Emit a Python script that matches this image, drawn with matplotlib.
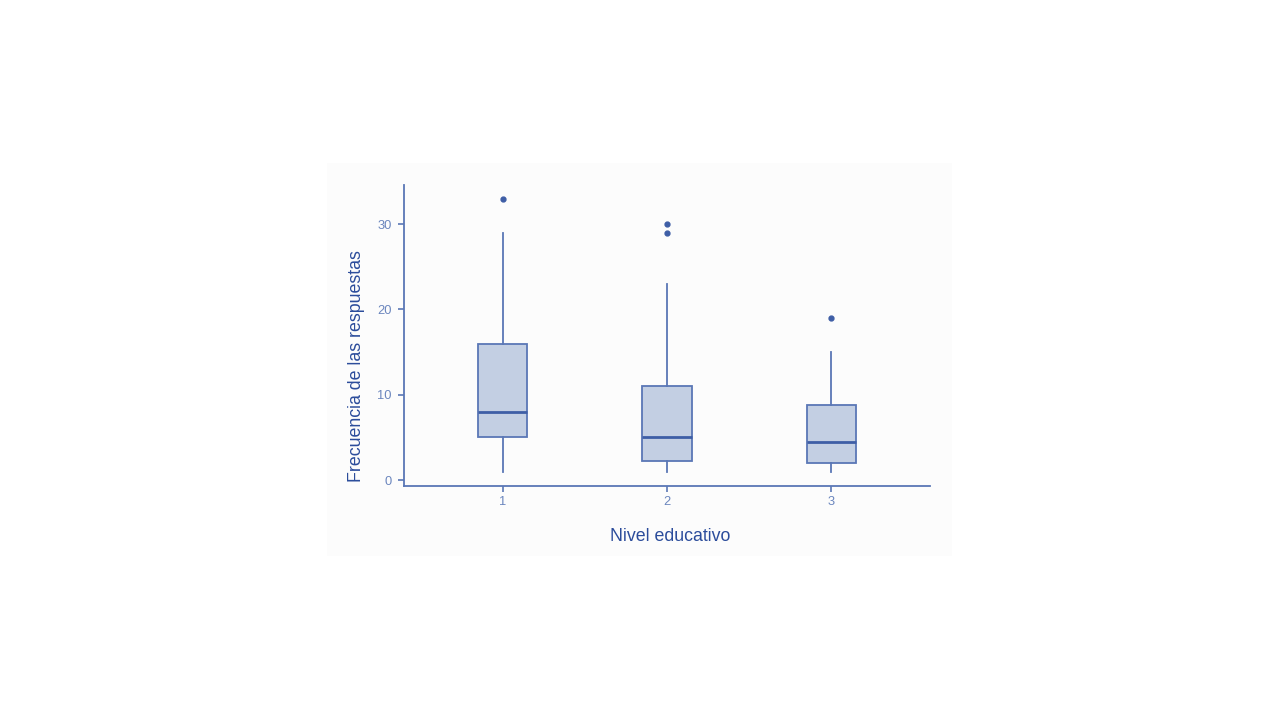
import matplotlib
matplotlib.use("Agg")
import matplotlib.pyplot as plt
from matplotlib.patches import Rectangle

# Data
categories = ["1", "2", "3"]
whisker_low = [1, 1, 1]
q1 = [5, 2.25, 2]
median = [8, 5, 4.5]
q3 = [16, 11, 8.75]
whisker_high = [29, 23, 15]
outliers = [[33], [29, 30], [19]]

x_label = "Nivel educativo"
y_label = "Frecuencia de las respuestas"
y_ticks = [0, 10, 20, 30]

plt.rcParams['font.family'] = ['Liberation Sans', 'DejaVu Sans']

edge = "#5A77B6"
fill = "#C3CFE3"
med_c = "#3E5EA6"
tick_c = "#6B86BE"
label_c = "#2B4C9B"

fig = plt.figure(figsize=(12.8, 7.2), dpi=100)
fig.patch.set_facecolor("white")
bg = Rectangle((327/1280, 1-556/720), (952-327)/1280, (556-163)/720,
               transform=fig.transFigure, facecolor="#FCFCFC",
               edgecolor="none", zorder=-10)
fig.patches.append(bg)

ax = fig.add_axes([404/1280, 1-486/720, 526/1280, 301/720])
ax.set_zorder(5)
ax.set_facecolor("none")

stats = []
for i, c in enumerate(categories):
    stats.append(dict(label=c, whislo=whisker_low[i], q1=q1[i], med=median[i],
                      q3=q3[i], whishi=whisker_high[i], fliers=outliers[i]))

ax.bxp(stats, positions=range(1, len(categories) + 1), widths=0.3,
       patch_artist=True, showcaps=False,
       boxprops=dict(facecolor=fill, edgecolor=edge, linewidth=1.3),
       whiskerprops=dict(color=edge, linewidth=1.3),
       medianprops=dict(color=med_c, linewidth=2.0, solid_capstyle="butt"),
       flierprops=dict(marker="o", markerfacecolor=med_c, markeredgecolor=med_c,
                       markersize=3.5, linestyle="none"))

ax.set_xlim(0.4, 3.6)
ax.set_ylim(-0.7, 34.6)
ax.set_yticks(y_ticks)
ax.set_xticks(range(1, len(categories) + 1))
ax.set_xticklabels(categories)

for s in ["top", "right"]:
    ax.spines[s].set_visible(False)
for s in ["left", "bottom"]:
    ax.spines[s].set_color(edge)
    ax.spines[s].set_linewidth(1.3)

ax.tick_params(axis="both", colors=edge, labelcolor=tick_c, labelsize=9.3,
               length=4, width=1.2)
ax.tick_params(axis="y", pad=5)
ax.tick_params(axis="x", pad=3.5)

ax.set_xlabel(x_label, fontsize=12.8, color=label_c)
ax.set_ylabel(y_label, fontsize=12.8, color=label_c)
ax.xaxis.set_label_coords(0.506, -0.14)
ax.yaxis.set_label_coords(-0.074, 0.399)

fig.savefig("out.png", dpi=100, facecolor="white")
